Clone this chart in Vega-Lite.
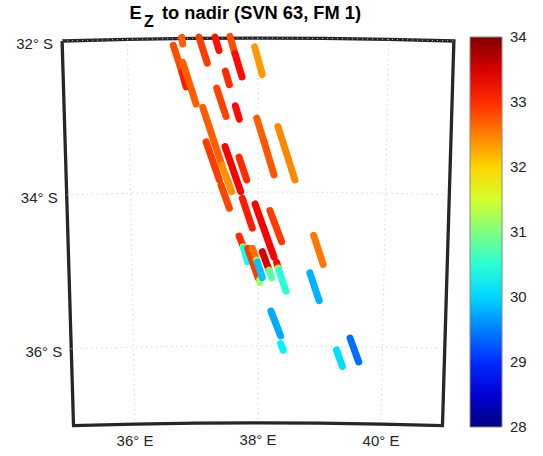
{
"$schema":"https://vega.github.io/schema/vega-lite/v6.json",
"width":543,"height":456,"padding":0,"autosize":"none",
"background":"white",
"projection":{"type":"conicConformal","parallels":[-32,-37],"rotate":[-38,0],"center":[0,-34],"translate":[258,192],"scale":4412},
"title":{"text":"E\u00a0\u00a0\u00a0\u00a0to nadir (SVN 63, FM 1)","font":"Liberation Sans","fontSize":18.3,"fontWeight":"bold","color":"#000000","anchor":"start","frame":"group","dx":129.5,"dy":23,"offset":0},
"config":{"view":{"stroke":null}},
"datasets":{
"frame":[
{"seq":1,"lon":35,"lat":-32},{"seq":2,"lon":36,"lat":-32},{"seq":3,"lon":37,"lat":-32},{"seq":4,"lon":38,"lat":-32},{"seq":5,"lon":39,"lat":-32},{"seq":6,"lon":40,"lat":-32},{"seq":7,"lon":41,"lat":-32},
{"seq":8,"lon":41,"lat":-37},{"seq":9,"lon":40,"lat":-37},{"seq":10,"lon":39,"lat":-37},{"seq":11,"lon":38,"lat":-37},{"seq":12,"lon":37,"lat":-37},{"seq":13,"lon":36,"lat":-37},{"seq":14,"lon":35,"lat":-37},{"seq":15,"lon":35,"lat":-32}],
"grid":[
{"g":"m36","seq":1,"lon":36,"lat":-32},{"g":"m36","seq":2,"lon":36,"lat":-37},
{"g":"m38","seq":1,"lon":38,"lat":-32},{"g":"m38","seq":2,"lon":38,"lat":-37},
{"g":"m40","seq":1,"lon":40,"lat":-32},{"g":"m40","seq":2,"lon":40,"lat":-37},
{"g":"p32","seq":1,"lon":35,"lat":-32},{"g":"p32","seq":2,"lon":36,"lat":-32},{"g":"p32","seq":3,"lon":37,"lat":-32},{"g":"p32","seq":4,"lon":38,"lat":-32},{"g":"p32","seq":5,"lon":39,"lat":-32},{"g":"p32","seq":6,"lon":40,"lat":-32},{"g":"p32","seq":7,"lon":41,"lat":-32},
{"g":"p34","seq":1,"lon":35,"lat":-34},{"g":"p34","seq":2,"lon":36,"lat":-34},{"g":"p34","seq":3,"lon":37,"lat":-34},{"g":"p34","seq":4,"lon":38,"lat":-34},{"g":"p34","seq":5,"lon":39,"lat":-34},{"g":"p34","seq":6,"lon":40,"lat":-34},{"g":"p34","seq":7,"lon":41,"lat":-34},
{"g":"p36","seq":1,"lon":35,"lat":-36},{"g":"p36","seq":2,"lon":36,"lat":-36},{"g":"p36","seq":3,"lon":37,"lat":-36},{"g":"p36","seq":4,"lon":38,"lat":-36},{"g":"p36","seq":5,"lon":39,"lat":-36},{"g":"p36","seq":6,"lon":40,"lat":-36},{"g":"p36","seq":7,"lon":41,"lat":-36}],
"latLabels":[{"t":"32° S","lon":35,"lat":-32},{"t":"34° S","lon":35,"lat":-34},{"t":"36° S","lon":35,"lat":-36}],
"lonLabels":[{"t":"36° E","lon":36,"lat":-37},{"t":"38° E","lon":38,"lat":-37},{"t":"40° E","lon":40,"lat":-37}],
"tracks":[
{"lon":36.702,"lat":-32.087,"lon2":36.831,"lat2":-32.436,"v":32.8},
{"lon":36.831,"lat":-32.436,"lon2":36.890,"lat2":-32.628,"v":33.1},
{"lon":36.843,"lat":-32.310,"lon2":37.042,"lat2":-32.853,"v":32.7},
{"lon":36.832,"lat":-31.985,"lon2":36.846,"lat2":-32.072,"v":32.7},
{"lon":37.096,"lat":-31.985,"lon2":37.221,"lat2":-32.323,"v":32.9},
{"lon":37.342,"lat":-31.985,"lon2":37.402,"lat2":-32.159,"v":33.15},
{"lon":37.571,"lat":-31.977,"lon2":37.647,"lat2":-32.202,"v":32.8},
{"lon":37.647,"lat":-32.202,"lon2":37.754,"lat2":-32.505,"v":33.2},
{"lon":37.949,"lat":-32.115,"lon2":38.066,"lat2":-32.475,"v":32.35},
{"lon":37.497,"lat":-32.427,"lon2":37.558,"lat2":-32.605,"v":33.0},
{"lon":37.363,"lat":-32.648,"lon2":37.504,"lat2":-33.018,"v":32.85},
{"lon":37.649,"lat":-32.879,"lon2":37.710,"lat2":-33.052,"v":33.2},
{"lon":37.145,"lat":-32.896,"lon2":37.434,"lat2":-33.647,"v":32.7},
{"lon":37.980,"lat":-33.039,"lon2":38.093,"lat2":-33.344,"v":32.7},
{"lon":38.093,"lat":-33.344,"lon2":38.250,"lat2":-33.777,"v":32.75},
{"lon":38.310,"lat":-33.148,"lon2":38.578,"lat2":-33.842,"v":32.45},
{"lon":37.192,"lat":-33.344,"lon2":37.395,"lat2":-33.842,"v":32.9},
{"lon":37.487,"lat":-33.409,"lon2":37.729,"lat2":-33.995,"v":33.25},
{"lon":37.704,"lat":-33.547,"lon2":37.823,"lat2":-33.842,"v":33.0},
{"lon":37.434,"lat":-33.647,"lon2":37.588,"lat2":-33.995,"v":32.4},
{"lon":37.421,"lat":-33.908,"lon2":37.550,"lat2":-34.211,"v":32.85},
{"lon":37.754,"lat":-34.081,"lon2":37.910,"lat2":-34.471,"v":33.1},
{"lon":37.953,"lat":-34.155,"lon2":38.253,"lat2":-34.845,"v":33.25},
{"lon":38.188,"lat":-34.242,"lon2":38.374,"lat2":-34.646,"v":32.9},
{"lon":38.878,"lat":-34.559,"lon2":39.033,"lat2":-34.936,"v":32.55},
{"lon":37.701,"lat":-34.572,"lon2":37.768,"lat2":-34.711,"v":33.0},
{"lon":37.768,"lat":-34.711,"lon2":37.775,"lat2":-34.73,"v":31.2},
{"lon":37.775,"lat":-34.73,"lon2":37.837,"lat2":-34.906,"v":30.3},
{"lon":37.837,"lat":-34.732,"lon2":38.005,"lat2":-35.123,"v":32.9},
{"lon":38.027,"lat":-35.145,"lon2":38.027,"lat2":-35.175,"v":31.2},
{"lon":37.910,"lat":-34.732,"lon2":37.979,"lat2":-34.884,"v":32.6},
{"lon":37.979,"lat":-34.884,"lon2":37.99,"lat2":-34.91,"v":31.0},
{"lon":37.99,"lat":-34.91,"lon2":38.068,"lat2":-35.115,"v":29.9},
{"lon":38.068,"lat":-34.776,"lon2":38.174,"lat2":-35.014,"v":33.5},
{"lon":38.174,"lat":-35.014,"lon2":38.18,"lat2":-35.03,"v":32.0},
{"lon":38.18,"lat":-35.03,"lon2":38.217,"lat2":-35.115,"v":30.8},
{"lon":38.296,"lat":-34.914,"lon2":38.321,"lat2":-34.988,"v":33.2},
{"lon":38.321,"lat":-34.988,"lon2":38.33,"lat2":-35.01,"v":31.6},
{"lon":38.33,"lat":-35.01,"lon2":38.445,"lat2":-35.288,"v":30.5},
{"lon":38.824,"lat":-35.049,"lon2":38.975,"lat2":-35.409,"v":29.8},
{"lon":38.207,"lat":-35.548,"lon2":38.363,"lat2":-35.870,"v":29.75},
{"lon":38.363,"lat":-35.969,"lon2":38.405,"lat2":-36.056,"v":30.2},
{"lon":39.261,"lat":-36.047,"lon2":39.360,"lat2":-36.260,"v":30.05},
{"lon":39.477,"lat":-35.891,"lon2":39.622,"lat2":-36.199,"v":29.4}
]},
"layer":[
{"data":{"name":"frame"},"mark":{"type":"line","stroke":"#262626","strokeWidth":3.3,"strokeJoin":"miter"},
 "encoding":{"longitude":{"field":"lon","type":"quantitative"},"latitude":{"field":"lat","type":"quantitative"},"order":{"field":"seq","type":"quantitative"}}},
{"data":{"name":"grid"},"mark":{"type":"line","stroke":"#c4c4c4","strokeWidth":1,"strokeDash":[1,4]},
 "encoding":{"longitude":{"field":"lon","type":"quantitative"},"latitude":{"field":"lat","type":"quantitative"},"detail":{"field":"g"},"order":{"field":"seq","type":"quantitative"}}},
{"data":{"name":"tracks"},"mark":{"type":"rule","strokeWidth":7,"strokeCap":"round"},
 "encoding":{"longitude":{"field":"lon","type":"quantitative"},"latitude":{"field":"lat","type":"quantitative"},"longitude2":{"field":"lon2"},"latitude2":{"field":"lat2"},
  "color":{"field":"v","type":"quantitative","scale":{"domain":[28,34],"nice":false,"interpolate":"rgb","range":["#000080","#0000ff","#0080ff","#00ffff","#80ff80","#ffff00","#ff8000","#ff0000","#800000"]},
   "legend":{"orient":"none","legendX":470,"legendY":37,"title":null,"gradientLength":390,"gradientThickness":32,"gradientStrokeColor":"#8a8a8a","gradientStrokeWidth":1,"values":[28,29,30,31,32,33,34],"labelFont":"Liberation Sans","labelFontSize":15,"labelColor":"#262626","labelOverlap":false,"labelOffset":8,"encode":{"labels":{"update":{"baseline":{"value":"middle"}}}}}}}},
{"data":{"name":"latLabels"},"mark":{"type":"text","align":"right","baseline":"middle","dx":-9,"dy":3,"font":"Liberation Sans","fontSize":15,"color":"#262626"},
 "encoding":{"longitude":{"field":"lon","type":"quantitative"},"latitude":{"field":"lat","type":"quantitative"},"text":{"field":"t"}}},
{"data":{"name":"lonLabels"},"mark":{"type":"text","align":"center","baseline":"middle","dy":17,"dx":0,"font":"Liberation Sans","fontSize":15,"color":"#262626"},
 "encoding":{"longitude":{"field":"lon","type":"quantitative"},"latitude":{"field":"lat","type":"quantitative"},"text":{"field":"t"}}},
{"data":{"values":[{"t":"Z","lon":36.257,"lat":-31.84}]},"mark":{"type":"text","align":"left","baseline":"alphabetic","font":"Liberation Sans","fontSize":16,"fontWeight":"bold","color":"#000000"},
 "encoding":{"longitude":{"field":"lon","type":"quantitative"},"latitude":{"field":"lat","type":"quantitative"},"text":{"field":"t"}}}
]
}
